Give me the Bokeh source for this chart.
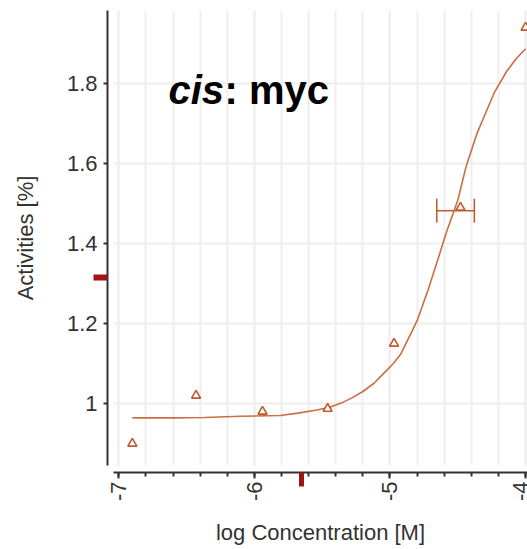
import math
from bokeh.plotting import figure
from bokeh.models import (ColumnDataSource, Whisker, TeeHead, Label, LinearAxis,
                          SingleIntervalTicker, FixedTicker, CustomJSTickFormatter)
from bokeh.embed import file_html
from bokeh.resources import INLINE

# ---------------- data ----------------
log_conc = [-6.90, -6.43, -5.94, -5.46, -4.97, -4.48, -4.00]
activity = [0.900, 1.020, 0.980, 0.987, 1.150, 1.490, 1.940]

err_base = [1.482]
err_lo = [-4.655]
err_hi = [-4.378]

fit_x = [-6.90, -6.60, -6.37, -6.10, -5.81, -5.68, -5.55, -5.45, -5.36, -5.28,
         -5.20, -5.12, -5.05, -4.98, -4.92, -4.85, -4.80, -4.72, -4.65, -4.58,
         -4.50, -4.44, -4.36, -4.30, -4.23, -4.14, -4.07, -4.00]
fit_y = [0.964, 0.964, 0.965, 0.968, 0.970, 0.976, 0.983, 0.990, 1.001, 1.014,
         1.030, 1.050, 1.074, 1.098, 1.124, 1.172, 1.207, 1.283, 1.357, 1.432,
         1.508, 1.591, 1.674, 1.722, 1.778, 1.830, 1.862, 1.887]

marker_x = -5.655   # red marker on the x axis
marker_y = 1.315    # red marker on the y axis

x_ticks = [-7, -6, -5, -4]
y_ticks = [1.0, 1.2, 1.4, 1.6, 1.8]

title_italic = "cis"
title_rest = ": myc"
x_label = "log Concentration [M]"
y_label = "Activities [%]"

# ---------------- layout ----------------
W, H = 527, 549
LEFT, TOP, BOTTOM, RIGHT = 113, 10, 84, 0
FW, FH = W - LEFT - RIGHT, H - TOP - BOTTOM
x0, x1 = -7.039, -3.986
y0, y1 = 0.845, 1.9825
sx = FW / (x1 - x0)
sy = FH / (y1 - y0)
GAP_X = 7    # x axis sits this far below the frame
GAP_Y = 6    # y axis sits this far left of the frame
P_Y = 98     # expected width of the main y axis panel
Q_X = 77     # expected height of the main x axis panel


def dx(px):
    return x0 + (px - LEFT) / sx


def dy(py):
    return y1 - (py - TOP) / sy


FONT = "Liberation Sans"
MARK = "#bf5a2c"
CURVE = "#cc6d43"
RED = "#a01414"
AX = "#333333"
GRID = "#eeeeee"

p = figure(width=W, height=H, output_backend="svg", toolbar_location=None,
           x_range=(x0, x1), y_range=(y0, y1), title=None,
           min_border_left=LEFT, min_border_right=RIGHT,
           min_border_top=TOP, min_border_bottom=BOTTOM)
p.outline_line_color = None
p.background_fill_color = "white"
p.border_fill_color = "white"

fmt = CustomJSTickFormatter(code="return String(Number(tick.toFixed(2)));")
blank = CustomJSTickFormatter(code="return '';")

xa = p.xaxis[0]
ya = p.yaxis[0]

# x axis
xa.ticker = SingleIntervalTicker(interval=1, num_minor_ticks=5)
xa.formatter = fmt
xa.axis_line_color = AX
xa.axis_line_width = 2
xa.major_tick_line_color = AX
xa.major_tick_line_width = 2
xa.minor_tick_line_color = AX
xa.minor_tick_line_width = 2
xa.major_tick_out = 6
xa.major_tick_in = 0
xa.minor_tick_out = 4
xa.minor_tick_in = 0
xa.major_label_orientation = math.pi / 2
xa.major_label_standoff = 3
xa.major_label_text_font = FONT
xa.major_label_text_font_size = "22px"
xa.major_label_text_color = AX
xa.axis_label = x_label
xa.axis_label_text_font = FONT
xa.axis_label_text_font_size = "22px"
xa.axis_label_text_font_style = "normal"
xa.axis_label_text_color = AX
xa.axis_label_standoff = 16

# y axis
ya.ticker = FixedTicker(ticks=y_ticks)
ya.formatter = fmt
ya.axis_line_color = AX
ya.axis_line_width = 2
ya.major_tick_line_color = AX
ya.major_tick_line_width = 2
ya.major_tick_out = 4
ya.major_tick_in = 0
ya.minor_tick_out = 0
ya.minor_tick_in = 0
ya.major_label_standoff = 6
ya.major_label_text_font = FONT
ya.major_label_text_font_size = "22px"
ya.major_label_text_color = AX
ya.axis_label = y_label
ya.axis_label_text_font = FONT
ya.axis_label_text_font_size = "22px"
ya.axis_label_text_font_style = "normal"
ya.axis_label_text_color = AX
ya.axis_label_standoff = 26


def spacer(size, pos):
    # an empty axis whose (invisible) tick only reserves space
    return LinearAxis(ticker=FixedTicker(ticks=[pos]), formatter=blank,
                      axis_line_color=None, major_tick_line_color="white",
                      major_tick_line_alpha=0.01, major_tick_line_width=1,
                      minor_tick_line_color=None, major_tick_out=size, major_tick_in=0,
                      minor_tick_out=0, minor_tick_in=0, major_label_standoff=0)


def marker_axis(pos, tin, tout, width):
    return LinearAxis(ticker=FixedTicker(ticks=[pos]), formatter=blank,
                      axis_line_color=None, major_tick_line_color=RED,
                      major_tick_line_width=width, major_tick_line_cap="butt",
                      minor_tick_line_color=None, major_tick_out=tout,
                      major_tick_in=tin, minor_tick_out=0, minor_tick_in=0,
                      major_label_standoff=0)


# offset the axes from the frame, and add the red axis markers beyond them
p.below = [spacer(GAP_X, -6.5), xa, marker_axis(marker_x, Q_X - 1, 15 - Q_X, 5)]
p.left = [spacer(GAP_Y, 1.5), ya, marker_axis(marker_y, P_Y, 14 - P_Y, 6)]

# grid
p.xgrid.grid_line_color = GRID
p.xgrid.grid_line_width = 2
p.xgrid.minor_grid_line_color = GRID
p.xgrid.minor_grid_line_width = 2
p.ygrid.grid_line_color = GRID
p.ygrid.grid_line_width = 2

# fitted curve
p.line(fit_x, fit_y, line_color=CURVE, line_width=1.6)

# error bar
err_src = ColumnDataSource(dict(base=err_base, lower=err_lo, upper=err_hi))
p.add_layout(Whisker(source=err_src, base="base", lower="lower", upper="upper",
                     dimension="width", line_color=MARK, line_width=1.5,
                     upper_head=TeeHead(size=24, line_color=MARK, line_width=1.5),
                     lower_head=TeeHead(size=24, line_color=MARK, line_width=1.5)))

# data points
p.scatter(log_conc, activity, marker="triangle", size=9, fill_color="white",
          line_color=MARK, line_width=1.6)

# title
TITLE_BASE = 89
p.add_layout(Label(x=dx(168), y=dy(TITLE_BASE), text=title_italic, text_font=FONT,
                   text_font_size="40px", text_font_style="bold italic",
                   text_color="black", text_baseline="alphabetic", text_align="left"))
p.add_layout(Label(x=dx(168), y=dy(TITLE_BASE), x_offset=56, text=title_rest,
                   text_font=FONT, text_font_size="40px", text_font_style="bold",
                   text_color="black", text_baseline="alphabetic", text_align="left"))

open("out.html", "w").write(file_html(p, INLINE))
